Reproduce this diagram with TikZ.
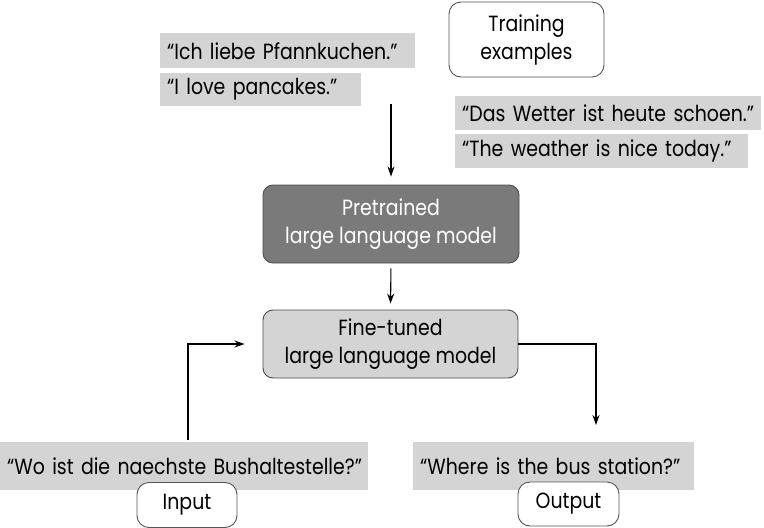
\documentclass[tikz,border=0pt]{standalone}
\usepackage{fontspec}
\setmainfont{Poppins}[FakeStretch=0.86]
\usetikzlibrary{arrows.meta}
\definecolor{lgray}{HTML}{D4D4D4}
\definecolor{dgray}{HTML}{7A7A7A}
\definecolor{edge}{HTML}{555555}
\tikzset{
  gbox/.style={fill=lgray, inner xsep=7pt, inner ysep=0pt, align=left, anchor=north west, font=\fontsize{22}{28}\selectfont},
  rbox/.style={draw=edge, line width=0.9pt, rounded corners=12pt, fill=white, align=center, font=\fontsize{22}{28}\selectfont},
  conn/.style={line width=1.1pt, -{Stealth[length=10pt,width=7pt]}},
}
\begin{document}
\begin{tikzpicture}[x=1pt,y=-1pt]
\useasboundingbox (0,0) rectangle (764,528);
% text boxes
\node[gbox, text width=241pt, minimum height=35pt] (t1) at (160,33) {\mbox{“Ich liebe Pfannkuchen.”}};
\node[gbox, text width=187pt, minimum height=33pt] (t2) at (160,73) {\mbox{“I love pancakes.”}};
\node[gbox, text width=292pt, minimum height=34pt] (t3) at (455,96) {\mbox{“Das Wetter ist heute schoen.”}};
\node[gbox, text width=279pt, minimum height=34pt] (t4) at (455,134) {\mbox{“The weather is nice today.”}};
\node[rbox, minimum width=155pt, minimum height=75pt] (train) at (526.5,39.5) {Training\\examples};
% models
\node[rbox, draw=black!70, fill=dgray, text=white, minimum width=256pt, minimum height=78pt, rounded corners=10pt] (pre) at (391,224) {Pretrained\\large language model};
\node[rbox, draw=black!70, fill=lgray, minimum width=255pt, minimum height=68pt, rounded corners=10pt] (fine) at (390.5,344) {Fine-tuned\\large language model};
% input / output
\node[gbox, text width=354pt, minimum height=48pt] (in) at (0,442) {\mbox{“Wo ist die naechste Bushaltestelle?”}};
\node[gbox, text width=267pt, minimum height=48pt] (out) at (413,442) {\mbox{“Where is the bus station?”}};
\node[rbox, minimum width=100pt, minimum height=45pt] (inl) at (187,505) {Input};
\node[rbox, minimum width=101pt, minimum height=44pt] (outl) at (568.5,504) {Output};
% connectors
\coordinate (a1) at (391,104);
\draw[conn, shorten >=8pt] (a1) -- (pre.north);
\draw[conn, shorten <=5pt, shorten >=6pt] (pre.south) -- (fine.north);
\draw[conn, shorten <=2pt, shorten >=18pt] (in.north -| 188,0) |- (fine.west);
\draw[conn, shorten >=17pt] (fine.east) -| (out.north -| 596,0);
\end{tikzpicture}
\end{document}
